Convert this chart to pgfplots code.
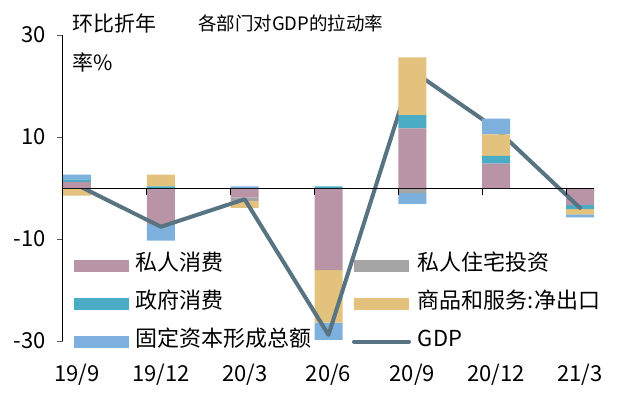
\documentclass[border=0pt]{standalone}
\usepackage{pgfplots}
\pgfplotsset{compat=1.18}
\usepackage{pgfplotstable}
\usepackage{fontspec}
\setmainfont{Noto Sans CJK SC}
\definecolor{cpink}{RGB}{185,148,166}
\definecolor{cgrey}{RGB}{165,165,165}
\definecolor{cteal}{RGB}{75,172,198}
\definecolor{cyellow}{RGB}{226,194,124}
\definecolor{cblue}{RGB}{126,176,222}
\definecolor{cline}{RGB}{88,115,130}

% positive parts of each contribution (stacked upward)
\pgfplotstableread{
x pink grey teal yellow blue
0 1.2 0 0.5 0 0.9
1 0 0 0.3 2.3 0
2 0 0 0 0 0.3
3 0 0 0.3 0 0
4 11.7 0 2.6 11.3 0
5 4.8 0 1.5 4.2 3.1
6 0 0 0 0 0
}\tabpos
% negative parts of each contribution (stacked downward)
\pgfplotstableread{
x pink grey teal yellow blue
0 0 0 0 -1.5 0
1 -7.1 0 0 0 -3.2
2 -1.9 -0.6 0 -1.4 0
3 -16.1 0 0 -10.3 -3.4
4 0 -1.0 0 0 -2.1
5 0 0 0 0 0
6 -3.3 0 -0.85 -1.0 -0.6
}\tabneg
\pgfplotstableread{
x gdp
0 0.6
1 -7.6
2 -2.2
3 -28.8
4 23.0
5 11.6
6 -3.9
}\tabgdp

\pgfplotsset{
  base/.style={scale only axis, width=531bp, height=306bp,
    xmin=-0.167, xmax=6.167, ymin=-30, ymax=30,
    at={(0,0)}, anchor=south west,
    ybar stacked, bar width=28bp,
    font=\fontsize{22bp}{26bp}\selectfont},
  mybar/.style={fill=#1, draw=none,
    legend image code/.code={\fill[fill=#1] (0bp,-6bp) rectangle (55bp,6bp);}},
  lineleg/.style={legend image code/.code={\draw[cline, line width=4bp, line cap=round] (0bp,0bp) -- (55bp,0bp);}},
}

\begin{document}
\begin{tikzpicture}
\useasboundingbox (-63bp,-52bp) rectangle (555bp,341bp);
% negative stacks
\begin{axis}[base, hide axis]
\addplot[mybar=cpink] table[x=x,y=pink]{\tabneg};
\addplot[mybar=cgrey] table[x=x,y=grey]{\tabneg};
\addplot[mybar=cteal] table[x=x,y=teal]{\tabneg};
\addplot[mybar=cyellow] table[x=x,y=yellow]{\tabneg};
\addplot[mybar=cblue] table[x=x,y=blue]{\tabneg};
\end{axis}
% positive stacks, GDP line, axes and legend
\begin{axis}[base,
  axis y line*=left, axis x line*=bottom,
  x axis line style={draw=none},
  y axis line style={black, line width=1bp},
  xtick={0,...,6}, xticklabels={19/9,19/12,20/3,20/6,20/9,20/12,21/3},
  xtick style={draw=none},
  xticklabel style={anchor=base, yshift=-40bp},
  ytick={-30,-10,10,30}, ytick align=outside,
  ytick style={gray!70!black, line width=1bp}, major tick length=6bp,
  yticklabel style={anchor=east, xshift=-8bp},
  /pgf/number format/assume math mode=true,
  legend columns=2,
  legend cell align=left,
  legend style={draw=none, fill=none, inner sep=0pt, outer sep=0pt,
    at={(axis description cs:0.0207,0.281)}, anchor=north west,
    nodes={inner sep=0pt, text height=15bp, text depth=6bp},
    row sep=17bp, column sep=7bp,
    /tikz/every even column/.append style={column sep=40bp}},
]
\addplot[mybar=cpink] table[x=x,y=pink]{\tabpos};
\addlegendentry{私人消费}
\addplot[mybar=cgrey] table[x=x,y=grey]{\tabpos};
\addlegendentry{私人住宅投资}
\addplot[mybar=cteal] table[x=x,y=teal]{\tabpos};
\addlegendentry{政府消费}
\addplot[mybar=cyellow] table[x=x,y=yellow]{\tabpos};
\addlegendentry{商品和服务:净出口}
\addplot[mybar=cblue] table[x=x,y=blue]{\tabpos};
\addlegendentry{固定资本形成总额}
\draw[black, line width=1bp] (axis cs:-0.167,0) -- (axis cs:6.167,0);
\draw[black, line width=1bp] (axis cs:0.833,0) -- ([yshift=-7bp]axis cs:0.833,0);
\draw[black, line width=1bp] (axis cs:1.833,0) -- ([yshift=-7bp]axis cs:1.833,0);
\draw[black, line width=1bp] (axis cs:2.833,0) -- ([yshift=-7bp]axis cs:2.833,0);
\draw[black, line width=1bp] (axis cs:3.833,0) -- ([yshift=-7bp]axis cs:3.833,0);
\draw[black, line width=1bp] (axis cs:4.833,0) -- ([yshift=-7bp]axis cs:4.833,0);
\draw[black, line width=1bp] (axis cs:5.833,0) -- ([yshift=-7bp]axis cs:5.833,0);
\addplot[sharp plot, stack plots=false, color=cline, line width=4bp, line join=round, line cap=round, lineleg] table[x=x,y=gdp]{\tabgdp};
\addlegendentry{GDP}
\end{axis}
\node[anchor=west, inner sep=0pt, font=\fontsize{21bp}{25bp}\selectfont] at (9bp,318bp) {环比折年};
\node[anchor=west, inner sep=0pt, font=\fontsize{21bp}{25bp}\selectfont] at (9bp,279bp) {率\%};
\node[anchor=west, inner sep=0pt, font=\fontsize{18.5bp}{22bp}\selectfont] at (135bp,318bp) {各部门对GDP的拉动率};
\end{tikzpicture}
\end{document}
